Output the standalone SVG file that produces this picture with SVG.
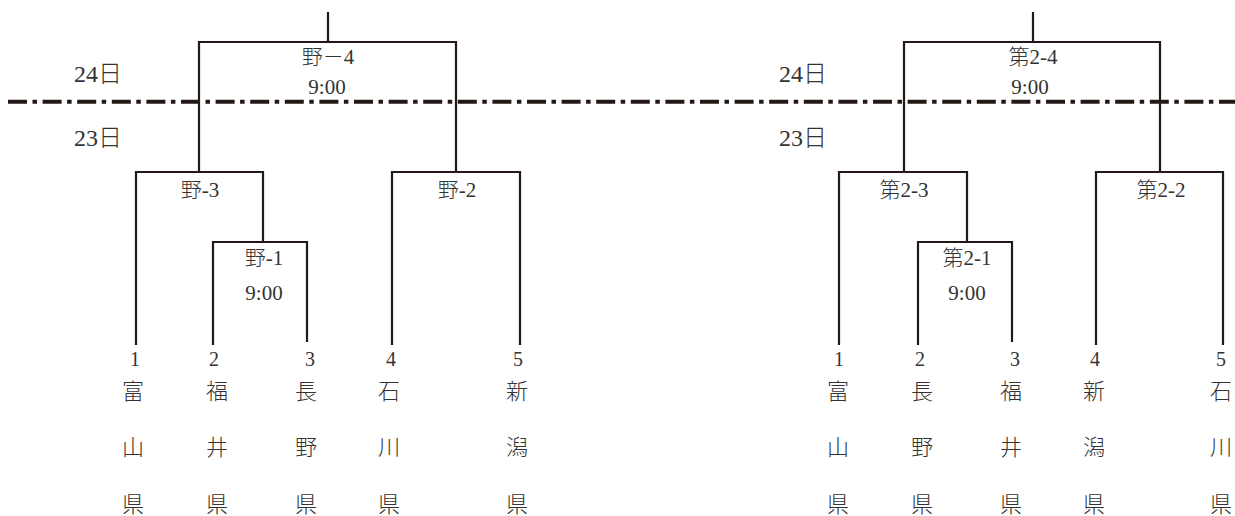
<svg xmlns="http://www.w3.org/2000/svg" width="1235" height="516" viewBox="0 0 1235 516">
<style>
.ln{fill:none;stroke:#231815;stroke-width:2.2;stroke-linecap:butt}
.dd{fill:none;stroke:#231815;stroke-width:4;stroke-dasharray:19 5.5 4.5 5.6}
text{font-family:"Liberation Serif","Noto Sans CJK JP",serif;fill:#333;text-anchor:middle;font-weight:300}
.day{font-size:24px;text-anchor:start}
.lb{font-size:21px}
.num{font-size:20px}
.kj{font-size:22px;font-family:"Noto Sans CJK JP",sans-serif}
</style>
<rect width="1235" height="516" fill="#fff"/>
<line class="dd" x1="8" y1="101.7" x2="1235" y2="101.7"/>
<g id="days">
<text class="day" x="74" y="82">24日</text>
<text class="day" x="74" y="146">23日</text>
<text class="day" x="779" y="82">24日</text>
<text class="day" x="779" y="146">23日</text>
</g>
<g id="connectors">
<path class="ln" d="M328,12V42M199,172V42H456V172"/>
<path class="ln" d="M136,345V172H263V242M392,345V172H520V345"/>
<path class="ln" d="M213,345V242H307V342"/>
<path class="ln" d="M1033,12V42M904,172V42H1160V172"/>
<path class="ln" d="M839,345V172H967V242M1096,345V172H1223V345"/>
<path class="ln" d="M918,345V242H1012V342"/>
</g>
<g id="m4"><text class="lb" x="328" y="64">野－4</text><text class="lb" x="327" y="94">9:00</text></g>
<g id="m3"><text class="lb" x="200" y="197">野-3</text></g>
<g id="m2"><text class="lb" x="457" y="197">野-2</text></g>
<g id="m1"><text class="lb" x="264" y="265">野-1</text><text class="lb" x="264" y="300">9:00</text></g>
<g id="n4"><text class="lb" x="1033" y="64">第2-4</text><text class="lb" x="1030" y="94">9:00</text></g>
<g id="n3"><text class="lb" x="904" y="197">第2-3</text></g>
<g id="n2"><text class="lb" x="1161" y="197">第2-2</text></g>
<g id="n1"><text class="lb" x="967" y="265">第2-1</text><text class="lb" x="967" y="300">9:00</text></g>
<g id="leftTeams">
<g id="L1"><text class="num" x="135" y="366">1</text><text class="kj" x="133" y="399">富</text><text class="kj" x="133" y="455">山</text><text class="kj" x="133" y="512">県</text></g>
<g id="L2"><text class="num" x="214" y="366">2</text><text class="kj" x="217" y="399">福</text><text class="kj" x="217" y="455">井</text><text class="kj" x="217" y="512">県</text></g>
<g id="L3"><text class="num" x="310" y="366">3</text><text class="kj" x="306" y="399">長</text><text class="kj" x="306" y="455">野</text><text class="kj" x="306" y="512">県</text></g>
<g id="L4"><text class="num" x="391" y="366">4</text><text class="kj" x="389" y="399">石</text><text class="kj" x="389" y="455">川</text><text class="kj" x="389" y="512">県</text></g>
<g id="L5"><text class="num" x="518" y="366">5</text><text class="kj" x="517" y="399">新</text><text class="kj" x="517" y="455">潟</text><text class="kj" x="517" y="512">県</text></g>
</g>
<g id="rightTeams">
<g id="R1"><text class="num" x="839" y="366">1</text><text class="kj" x="838" y="399">富</text><text class="kj" x="838" y="455">山</text><text class="kj" x="838" y="512">県</text></g>
<g id="R2"><text class="num" x="920" y="366">2</text><text class="kj" x="922" y="399">長</text><text class="kj" x="922" y="455">野</text><text class="kj" x="922" y="512">県</text></g>
<g id="R3"><text class="num" x="1015" y="366">3</text><text class="kj" x="1011" y="399">福</text><text class="kj" x="1011" y="455">井</text><text class="kj" x="1011" y="512">県</text></g>
<g id="R4"><text class="num" x="1095" y="366">4</text><text class="kj" x="1094" y="399">新</text><text class="kj" x="1094" y="455">潟</text><text class="kj" x="1094" y="512">県</text></g>
<g id="R5"><text class="num" x="1221" y="366">5</text><text class="kj" x="1221" y="399">石</text><text class="kj" x="1221" y="455">川</text><text class="kj" x="1221" y="512">県</text></g>
</g>
</svg>
